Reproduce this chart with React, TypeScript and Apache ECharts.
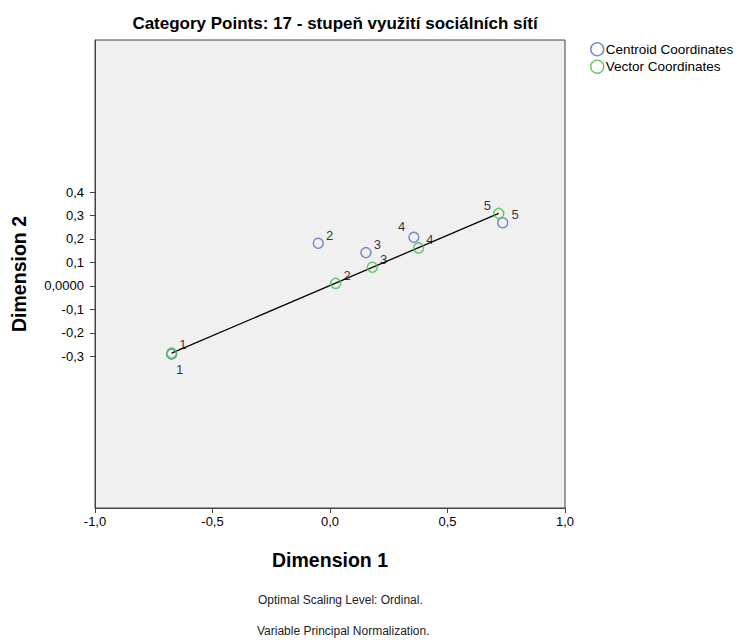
import React, { useEffect, useRef } from "react";
import * as echarts from "echarts";

const categories = ["1", "2", "3", "4", "5"];
const centroidX = [-0.674, -0.05, 0.153, 0.357, 0.735];
const centroidY = [-0.29, 0.182, 0.142, 0.207, 0.269];
const vectorX = [-0.674, 0.024, 0.18, 0.377, 0.718];
const vectorY = [-0.286, 0.011, 0.08, 0.162, 0.309];
const xTicks = [-1, -0.5, 0, 0.5, 1];
const yTicks = [-0.3, -0.2, -0.1, 0, 0.1, 0.2, 0.3, 0.4];

const FONT = "'Liberation Sans', Arial, sans-serif";
const BLUE = "#5b70c6";
const GREEN = "#46bf46";

const centroidLabelPos: any[] = [
  { position: "bottom", offset: [8, -2] },
  { position: "right", offset: [-3, -8] },
  { position: "right", offset: [-3, -8] },
  { position: "left", offset: [2, -11] },
  { position: "right", offset: [-2, -8] },
];
const vectorLabelPos: any[] = [
  { position: "right", offset: [-3, -9] },
  { position: "right", offset: [-3, -8] },
  { position: "right", offset: [-3, -8] },
  { position: "right", offset: [-3, -8] },
  { position: "left", offset: [3, -8] },
];

const labelBase = {
  show: true,
  color: "#000",
  fontSize: 13,
  fontFamily: FONT,
  textBorderWidth: 0,
  textBorderColor: "transparent",
};

export default function App() {
  const ref = useRef<HTMLDivElement>(null);
  useEffect(() => {
    const chart = echarts.init(ref.current!, null, { renderer: "svg" });
    const mk = (xs: number[], ys: number[], pos: any[]) =>
      categories.map((c, i) => ({
        value: [xs[i], ys[i]],
        name: c,
        label: { ...labelBase, formatter: c, ...pos[i] },
      }));
    chart.setOption({
      animation: false,
      backgroundColor: "#ffffff",
      textStyle: { fontFamily: FONT },
      title: {
        text: "Category Points: 17 - stupeň využití sociálních sítí",
        left: 330,
        textAlign: "center",
        top: 10,
        textStyle: { fontSize: 17, fontWeight: "bold", color: "#000", fontFamily: FONT },
      },
      legend: {
        orient: "vertical",
        left: 585,
        top: 37,
        itemGap: 3,
        itemWidth: 13,
        itemHeight: 13,
        icon: "circle",
        textStyle: { fontSize: 13.5, color: "#000", fontFamily: FONT, padding: [0, 0, 0, -3] },
        data: [
          { name: "Centroid Coordinates", itemStyle: { color: "rgba(0,0,0,0)", borderColor: BLUE, borderWidth: 1.5 } },
          { name: "Vector Coordinates", itemStyle: { color: "rgba(0,0,0,0)", borderColor: GREEN, borderWidth: 1.5 } },
        ],
      },
      grid: {
        left: 95,
        top: 40,
        width: 470,
        height: 468,
        show: true,
        backgroundColor: "#f0f0f0",
        borderColor: "#444",
        borderWidth: 1,
      },
      xAxis: {
        type: "value",
        min: -1,
        max: 1,
        interval: 0.5,
        name: "Dimension 1",
        nameLocation: "middle",
        nameGap: 42,
        nameTextStyle: { fontSize: 19.5, fontWeight: "bold", color: "#000", fontFamily: FONT },
        axisLine: { show: true, onZero: false, lineStyle: { color: "#444" } },
        axisTick: { show: true, length: 5, lineStyle: { color: "#444" }, customValues: xTicks },
        axisLabel: {
          fontSize: 13,
          color: "#000",
          fontFamily: FONT,
          margin: 7,
          customValues: xTicks,
          formatter: (v: number) => v.toFixed(1).replace(".", ","),
        },
        splitLine: { show: false },
      },
      yAxis: {
        type: "value",
        min: -0.945,
        max: 1.047,
        name: "Dimension 2",
        nameLocation: "middle",
        nameGap: 66,
        nameTextStyle: { fontSize: 19.5, fontWeight: "bold", color: "#000", fontFamily: FONT },
        axisLine: { show: true, onZero: false, lineStyle: { color: "#444" } },
        axisTick: { show: true, length: 5, lineStyle: { color: "#444" }, customValues: yTicks },
        axisLabel: {
          fontSize: 13,
          color: "#000",
          fontFamily: FONT,
          margin: 11,
          customValues: yTicks,
          formatter: (v: number) =>
            Math.abs(v) < 1e-9 ? "0,0000" : v.toFixed(1).replace(".", ","),
        },
        splitLine: { show: false },
      },
      series: [
        {
          name: "line",
          type: "line",
          data: [
            [vectorX[0], vectorY[0]],
            [vectorX[4], vectorY[4]],
          ],
          symbol: "none",
          lineStyle: { color: "#000", width: 1.3 },
          silent: true,
          z: 1,
        },
        {
          name: "Centroid Coordinates",
          type: "scatter",
          symbol: "circle",
          symbolSize: 10,
          itemStyle: { color: "rgba(0,0,0,0)", borderColor: BLUE, borderWidth: 1.5 },
          label: labelBase,
          data: mk(centroidX, centroidY, centroidLabelPos),
          z: 2,
        },
        {
          name: "Vector Coordinates",
          type: "scatter",
          symbol: "circle",
          symbolSize: 10,
          itemStyle: { color: "rgba(0,0,0,0)", borderColor: GREEN, borderWidth: 1.5 },
          label: labelBase,
          data: mk(vectorX, vectorY, vectorLabelPos),
          z: 3,
        },
      ],
      graphic: [
        {
          type: "text",
          left: 258,
          top: 594,
          style: { text: "Optimal Scaling Level: Ordinal.", fontSize: 12, fill: "#222", fontFamily: FONT },
        },
        {
          type: "text",
          left: 257,
          top: 625,
          style: { text: "Variable Principal Normalization.", fontSize: 12, fill: "#222", fontFamily: FONT },
        },
      ],
    });
    return () => chart.dispose();
  }, []);
  return (
    <div
      ref={ref}
      style={{ position: "fixed", left: 0, top: 0, width: 743, height: 643 }}
    />
  );
}
